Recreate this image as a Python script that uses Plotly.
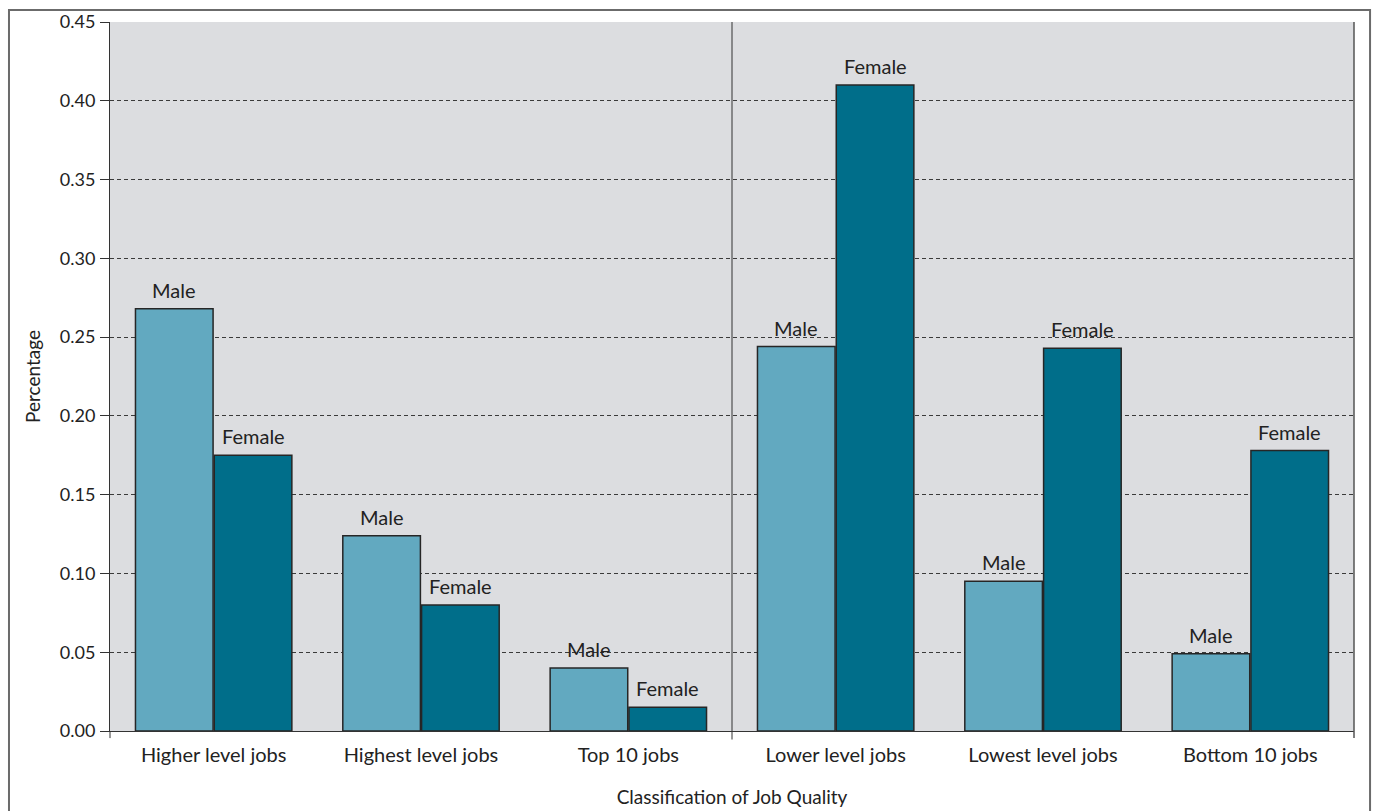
import plotly.graph_objects as go

categories = ["Higher level jobs", "Highest level jobs", "Top 10 jobs",
              "Lower level jobs", "Lowest level jobs", "Bottom 10 jobs"]
male = [0.268, 0.124, 0.040, 0.244, 0.095, 0.049]
female = [0.175, 0.080, 0.015, 0.410, 0.243, 0.178]

FONT = "Lato"
TXT = "#222222"
BARGAP = 0.24
OFFSET = (1 - BARGAP) / 4  # centre of each bar within its group

fig = go.Figure()
fig.add_trace(go.Bar(
    x=categories, y=male, name="Male",
    marker=dict(color="#62a9c0", line=dict(color="#262626", width=1.5)),
))
fig.add_trace(go.Bar(
    x=categories, y=female, name="Female",
    marker=dict(color="#006e8a", line=dict(color="#262626", width=1.5)),
))

annotations = []
for i, (m, f) in enumerate(zip(male, female)):
    annotations.append(dict(x=i - OFFSET, y=m, xref="x", yref="y", text="Male",
                            showarrow=False, yanchor="bottom", yshift=5,
                            font=dict(family=FONT, size=20, color=TXT)))
    annotations.append(dict(x=i + OFFSET, y=f, xref="x", yref="y", text="Female",
                            showarrow=False, yanchor="bottom", yshift=5,
                            font=dict(family=FONT, size=20, color=TXT)))

fig.update_layout(
    width=1375, height=811,
    margin=dict(l=110, r=21, t=22, b=80),
    paper_bgcolor="white", plot_bgcolor="#dcdde0",
    barmode="group", bargap=BARGAP, bargroupgap=0.015,
    showlegend=False,
    font=dict(family=FONT, size=16, color=TXT),
    annotations=annotations,
    xaxis=dict(
        automargin=False,
        showgrid=False, ticks="", showline=True, linecolor="#333333", linewidth=1,
        tickfont=dict(size=20, color=TXT), ticklabelstandoff=6,
        title=dict(text="Classification of Job Quality", font=dict(family=FONT, size=19, color=TXT),
                   standoff=25),
    ),
    yaxis=dict(
        automargin=False,
        range=[0, 0.45], dtick=0.05, tickformat=".2f",
        showgrid=True, gridcolor="#3a3a3a", gridwidth=1, griddash="4px,3px",
        zeroline=False, showline=True, linecolor="#333333", linewidth=1,
        ticks="outside", ticklen=9, tickcolor="#333333",
        tickfont=dict(size=18, color=TXT), ticklabelstandoff=1,
        title=dict(text="Percentage", font=dict(family=FONT, size=19, color=TXT), standoff=14),
    ),
    shapes=[
        # divider between higher-quality and lower-quality groups
        dict(type="line", xref="x", yref="paper", x0=2.5, x1=2.5, y0=-0.012, y1=1,
             line=dict(color="#333333", width=1)),
        # right edge of plot area
        dict(type="line", xref="paper", yref="paper", x0=1, x1=1, y0=-0.01, y1=1,
             line=dict(color="#555555", width=1.5)),
        # left axis extension below zero
        dict(type="line", xref="paper", yref="paper", x0=0, x1=0, y0=-0.01, y1=0,
             line=dict(color="#333333", width=1)),
        # outer frame
        dict(type="rect", xref="paper", yref="paper",
             x0=-0.0812, x1=1.0129, y0=-0.2, y1=1.0169,
             line=dict(color="#6b6b6b", width=2), fillcolor="rgba(0,0,0,0)", layer="below"),
    ],
)

fig.write_html("out.html")
